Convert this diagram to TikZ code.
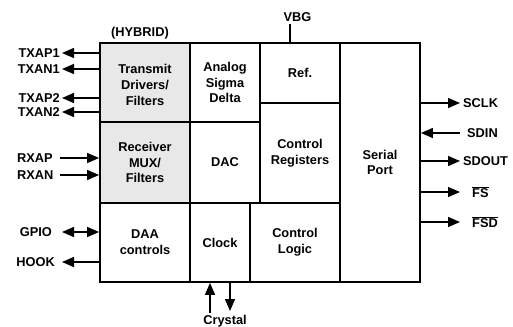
\documentclass[tikz,border=0pt]{standalone}
\usepackage{fontspec}
\setmainfont{Liberation Sans}
\usetikzlibrary{arrows.meta}
\begin{document}
\begin{tikzpicture}[x=1pt,y=-1pt,
  box/.style={draw, line width=1.8pt, align=center, inner sep=0pt},
  gbox/.style={box, fill=black!9},
  lbl/.style={inner sep=2pt},
  arr/.style={line width=1.4pt, -{Triangle[length=12pt,width=10pt]}},
  darr/.style={line width=1.4pt, {Triangle[length=12pt,width=10pt]}-{Triangle[length=12pt,width=10pt]}},
  every node/.style={font=\fontsize{12.8}{15.8}\selectfont\bfseries}]
\useasboundingbox (0,0) rectangle (513,326);
% blocks
\node[gbox, minimum width=90pt, minimum height=79pt] (tx) at (145,82.5) {};
\node[align=center] (txt) at (145,85) {Transmit\\Drivers/\\Filters};
\node[gbox, minimum width=90pt, minimum height=81pt] (rx) at (145,162.5) {Receiver\\MUX/\\Filters};
\node[box, minimum width=70pt, minimum height=79pt] (asd) at (225,82.5) {Analog\\Sigma\\Delta};
\node[box, minimum width=70pt, minimum height=81pt] (dac) at (225,162.5) {DAC};
\node[box, minimum width=80pt, minimum height=60pt] (ref) at (300,73) {Ref.};
\node[box, minimum width=80pt, minimum height=100pt] (creg) at (300,153) {Control\\Registers};
\node[box, minimum width=80pt, minimum height=239pt] (sp) at (380,162.5) {Serial\\Port};
\node[box, minimum width=90pt, minimum height=79pt] (daa) at (145,242.5) {DAA\\controls};
\node[box, minimum width=60pt, minimum height=79pt] (clk) at (220,242.5) {Clock};
\node[box, minimum width=90pt, minimum height=79pt] (cl) at (295,242.5) {Control\\Logic};
% top labels
\node (hyb) at (140,33) {(HYBRID)};
\node[anchor=base] (vbg) at (297.5,22) {VBG};
\coordinate (vb) at (290,24);
\draw[line width=1.4pt] (vb) -- (vb |- ref.north);
% left labels
\node[lbl, anchor=east] (txap1) at (62,53) {TXAP1};
\node[lbl, anchor=east] (txan1) at (62,69) {TXAN1};
\node[lbl, anchor=east] (txap2) at (62,98) {TXAP2};
\node[lbl, anchor=east] (txan2) at (62,112) {TXAN2};
\node[lbl, anchor=west] (rxap) at (15,158) {RXAP};
\node[lbl, anchor=west] (rxan) at (15,175) {RXAN};
\node[lbl, anchor=east] (gpio) at (54,232) {GPIO};
\node[lbl, anchor=east] (hook) at (57,262) {HOOK};
\draw[arr] (tx.west |- txap1) -- (txap1.east);
\draw[arr] (tx.west |- txan1) -- (txan1.east);
\draw[arr] (tx.west |- txap2) -- (txap2.east);
\draw[arr] (tx.west |- txan2) -- (txan2.east);
\coordinate (rxa) at (60,158);
\coordinate (rxb) at (60,175);
\draw[arr] (rxa) -- (rxa -| rx.west);
\draw[arr] (rxb) -- (rxb -| rx.west);
\coordinate (gp) at (62,232);
\coordinate (hk) at (62,262);
\draw[darr] (gp) -- (gp -| daa.west);
\draw[arr] (hk -| daa.west) -- (hk);
% right labels
\node[lbl, anchor=west] (sclk) at (461,103) {SCLK};
\node[lbl, anchor=west] (sdin) at (465,133) {SDIN};
\node[lbl, anchor=west] (sdout) at (461,161) {SDOUT};
\node[lbl, anchor=west] (fs) at (470,192) {$\overline{\mbox{FS}}$};
\node[lbl, anchor=west] (fsd) at (470,222) {$\overline{\mbox{FSD}}$};
\coordinate (c1) at (460,103);
\coordinate (c2) at (460,133);
\coordinate (c3) at (460,161);
\coordinate (c4) at (460,192);
\coordinate (c5) at (460,222);
\draw[arr] (c1 -| sp.east) -- (c1);
\draw[arr] (c2) -- (c2 -| sp.east);
\draw[arr] (c3 -| sp.east) -- (c3);
\draw[arr] (c4 -| sp.east) -- (c4);
\draw[arr] (c5 -| sp.east) -- (c5);
% crystal
\node[anchor=base] (crys) at (225,324.5) {Crystal};
\coordinate (cu) at (210,313);
\coordinate (cd) at (230,311);
\draw[arr] (cu) -- (cu |- clk.south);
\draw[arr] (cd |- clk.south) -- (cd);
\end{tikzpicture}
\end{document}
